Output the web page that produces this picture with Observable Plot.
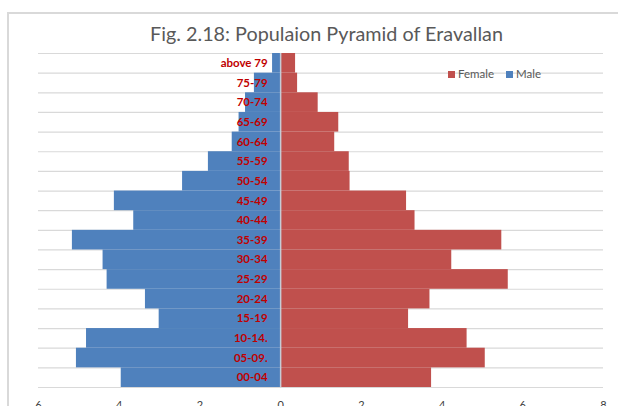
<!DOCTYPE html>
<html>
<head>
<meta charset="utf-8">
<script src="https://cdn.jsdelivr.net/npm/d3@7"></script>
<script src="https://cdn.jsdelivr.net/npm/@observablehq/plot@0.6"></script>
<style>
  html, body { margin: 0; padding: 0; background: #fff; }
  #wrap { position: relative; width: 618px; height: 406px; overflow: hidden; font-family: Lato, "Open Sans", sans-serif; }
  #border { position: absolute; left: 7px; top: 12px; width: 700px; height: 500px; border-left: 2px solid #d9d9d9; border-top: 2px solid #d9d9d9; }
  #title { position: absolute; left: 0; width: 653px; top: 20px; text-align: center; font-size: 19.8px; color: #595959; line-height: 26px; }
  #chart { position: absolute; left: 0; top: 0; }
  #legend { position: absolute; left: 448px; top: 67px; font-size: 11.5px; color: #595959; display: flex; align-items: center; line-height: 14px; }
  #legend .sw { display: inline-block; width: 7px; height: 7px; margin-right: 3px; }
  #legend .item { display: flex; align-items: center; margin-right: 12px; }
</style>
</head>
<body>
<div id="wrap">
  <div id="border"></div>
  <div id="chart"></div>
  <div id="title">Fig. 2.18: Populaion Pyramid of Eravallan</div>
  <div id="legend"></div>
</div>
<script>
// Age groups, bottom to top
const ageGroups = ["00-04", "05-09.", "10-14.", "15-19", "20-24", "25-29", "30-34", "35-39", "40-44",
  "45-49", "50-54", "55-59", "60-64", "65-69", "70-74", "75-79", "above 79"];
const male =   [3.95, 5.06, 4.81, 3.01, 3.35, 4.30, 4.40, 5.16, 3.64, 4.12, 2.43, 1.79, 1.20, 1.03, 0.87, 0.65, 0.20];
const female = [3.74, 5.07, 4.62, 3.17, 3.70, 5.64, 4.24, 5.48, 3.33, 3.12, 1.72, 1.70, 1.34, 1.44, 0.93, 0.42, 0.37];
const xTicks = [-6, -4, -2, 0, 2, 4, 6, 8];
const seriesNames = ["Female", "Male"];
const seriesColors = ["#C0504D", "#4F81BD"];

const rows = ageGroups.map((g, i) => ({group: g, i, male: male[i], female: female[i]}));
const n = ageGroups.length;

const chart = Plot.plot({
  width: 618,
  height: 406,
  marginLeft: 38,
  marginRight: 15,
  marginTop: 53,
  marginBottom: 19,
  style: {background: "transparent", fontFamily: "Lato, 'Open Sans', sans-serif", color: "#404040", overflow: "visible"},
  x: {domain: [xTicks[0], xTicks[xTicks.length - 1]], axis: null},
  y: {domain: [0, n], axis: null},
  marks: [
    Plot.ruleY(d3.range(n + 1), {stroke: "#d9d9d9", strokeWidth: 1.2}),
    Plot.rectX(rows, {x1: 0, x2: d => -d.male, y1: d => d.i, y2: d => d.i + 1, fill: seriesColors[1]}),
    Plot.rectX(rows, {x1: 0, x2: d => d.female, y1: d => d.i, y2: d => d.i + 1, fill: seriesColors[0]}),
    Plot.ruleX([0], {y1: 0, y2: n, stroke: "#c6ccd6", strokeWidth: 1.5}),
    Plot.text(rows, {x: 0, y: d => d.i + 0.5, text: "group", dx: -13, textAnchor: "end",
      fill: "#C00000", fontWeight: "bold", fontSize: 11.5}),
    Plot.axisX({ticks: xTicks, tickSize: 0, tickPadding: 14, tickFormat: d => Math.abs(d), fontSize: 11})
  ]
});
document.getElementById("chart").appendChild(chart);

const legend = document.getElementById("legend");
seriesNames.forEach((name, k) => {
  const item = document.createElement("span");
  item.className = "item";
  const sw = document.createElement("span");
  sw.className = "sw";
  sw.style.background = seriesColors[k];
  item.appendChild(sw);
  item.appendChild(document.createTextNode(name));
  legend.appendChild(item);
});
</script>
</body>
</html>
